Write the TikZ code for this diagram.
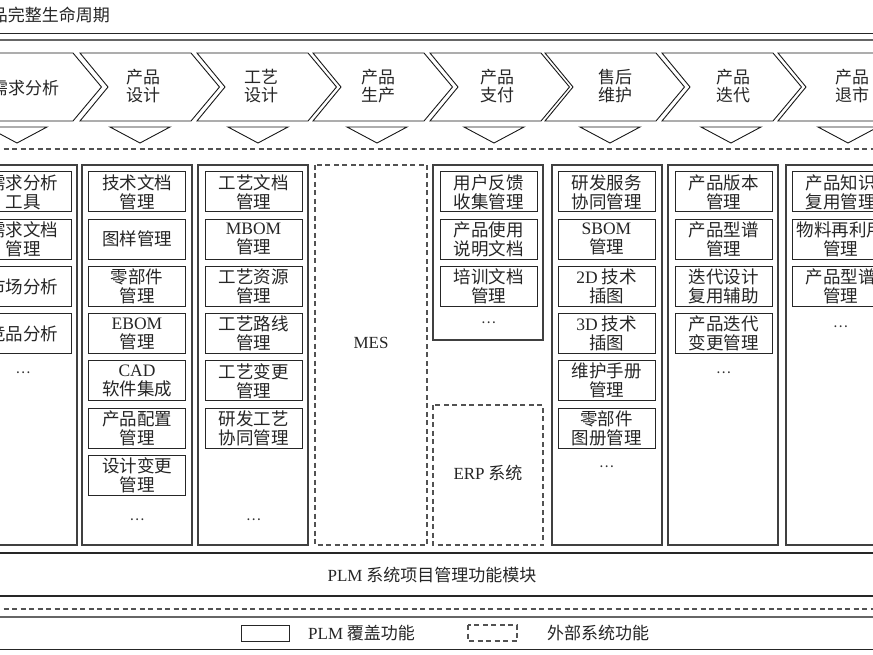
\documentclass[tikz,border=0pt]{standalone}
\usepackage{fontspec}
\setmainfont{Liberation Serif}
\newfontfamily\cjk{Noto Sans CJK SC}
\newfontfamily\latf{Liberation Serif}
\newcommand\enf[1]{{\latf #1}}
\begin{document}
\begin{tikzpicture}[x=1pt,y=-1pt,
  chev/.style={draw=black!90,line width=0.9pt,fill=white},
  tri/.style={draw=black!90,line width=0.9pt},
  colbox/.style={draw=black!75,line width=1.4pt},
  ext/.style={draw=black!68,line width=1.1pt,dash pattern=on 5pt off 3.5pt},
  fbox/.style={draw=black!85,line width=1pt,minimum width=97pt,minimum height=40pt,inner sep=0pt,align=center,font=\cjk\fontsize{17.5}{19}\selectfont,text=black!85},
  lbl/.style={inner sep=0pt,align=center,font=\cjk\fontsize{17}{18.5}\selectfont,text=black!85},
  dots/.style={inner sep=0pt,font=\cjk\fontsize{14}{14}\selectfont,text=black!80}
]
\useasboundingbox (0,0) rectangle (873,655);
\clip (0,0) rectangle (873,655);
\fill[white] (0,0) rectangle (873,655);

% title
\node[lbl,anchor=east] (title) at (110,15) {产品完整生命周期};

% top frame lines
\draw[draw=black!85,line width=0.8pt] (-5,33) -- (880,33);
\draw[draw=black!60,line width=1.8pt] (-5,40) -- (880,40);

% chevrons
\foreach \L in {-38,80,197,313,430,545,662,778}
  \draw[chev] (\L,53) -- ++(111,0) -- ++(28.5,34) -- ++(-28.5,34) -- ++(-111,0) -- ++(28,-34) -- cycle;

\node[lbl] (c1) at (25,88) {需求分析};
\foreach \cx/\t [count=\i from 2] in {143/{产品\\设计},261/{工艺\\设计},378/{产品\\生产},497/{产品\\支付},615/{售后\\维护},733/{产品\\迭代},852/{产品\\退市}}
  \node[lbl] (c\i) at (\cx,86) {\t};

% down triangles
\foreach \cx in {17,140,258,377,494,610,731,848}
  \draw[tri] (\cx-30,127) -- (\cx+30,127) -- (\cx,143) -- cycle;

% dashed separator
\draw[ext] (-5,149) -- (880,149);

% columns
\foreach \L in {-33,82,198,552,668,786}
  \draw[colbox] (\L,165) rectangle ++(110,380);
\draw[colbox] (433,165) rectangle (543,340);
\draw[ext] (315,165) rectangle (427,545);
\draw[ext] (433,405) rectangle (543,545);
\node[lbl] (mes) at (371,343) {\enf{MES}};
\node[lbl] (erp) at (488,473) {\enf{ERP} 系统};

% boxes column 1
\foreach \t [count=\k] in {{需求分析\\工具},{需求文档\\管理},{市场分析},{竞品分析}}
  \node[fbox] (a1-\k) at ({23},{192+47.2*(\k-1)}) {\t};
\node[dots] (d1) at (23,373) {…};
% column 2
\foreach \t [count=\k] in {{技术文档\\管理},{图样管理},{零部件\\管理},{\enf{EBOM}\\管理},{\enf{CAD}\\软件集成},{产品配置\\管理},{设计变更\\管理}}
  \node[fbox] (a2-\k) at ({137},{192+47.2*(\k-1)}) {\t};
\node[dots] (d2) at (137,520) {…};
% column 3
\foreach \t [count=\k] in {{工艺文档\\管理},{\enf{MBOM}\\管理},{工艺资源\\管理},{工艺路线\\管理},{工艺变更\\管理},{研发工艺\\协同管理}}
  \node[fbox] (a3-\k) at ({253.5},{192+47.2*(\k-1)}) {\t};
\node[dots] (d3) at (253.5,520) {…};
% column 5
\foreach \t [count=\k] in {{用户反馈\\收集管理},{产品使用\\说明文档},{培训文档\\管理}}
  \node[fbox] (a5-\k) at ({488.5},{192+47.2*(\k-1)}) {\t};
\node[dots] (d5) at (488.5,323) {…};
% column 6
\foreach \t [count=\k] in {{研发服务\\协同管理},{\enf{SBOM}\\管理},{\enf{2D} 技术\\插图},{\enf{3D} 技术\\插图},{维护手册\\管理},{零部件\\图册管理}}
  \node[fbox] (a6-\k) at ({606.5},{192+47.2*(\k-1)}) {\t};
\node[dots] (d6) at (606.5,467) {…};
% column 7
\foreach \t [count=\k] in {{产品版本\\管理},{产品型谱\\管理},{迭代设计\\复用辅助},{产品迭代\\变更管理}}
  \node[fbox] (a7-\k) at ({723.5},{192+47.2*(\k-1)}) {\t};
\node[dots] (d7) at (723.5,373) {…};
% column 8
\foreach \t [count=\k] in {{产品知识\\复用管理},{物料再利用\\管理},{产品型谱\\管理}}
  \node[fbox] (a8-\k) at ({840.5},{192+47.2*(\k-1)}) {\t};
\node[dots] (d8) at (840.5,327) {…};

% bottom band
\draw[draw=black!85,line width=1.2pt] (-5,553) -- (880,553);
\node[lbl] (plm) at (432,575) {\enf{PLM} 系统项目管理功能模块};
\draw[draw=black!85,line width=1.2pt] (-5,596) -- (880,596);
\draw[ext] (-5,609) -- (880,609);
\draw[draw=black!60,line width=1.8pt] (-5,617) -- (880,617);

% legend
\draw[draw=black!85,line width=1pt] (241,625) rectangle (289,641);
\node[lbl,anchor=west] (lg1) at (308,633) {\enf{PLM} 覆盖功能};
\draw[ext] (468,625) rectangle (517,641);
\node[lbl,anchor=west] (lg2) at (547,633) {外部系统功能};
\draw[draw=black!85,line width=0.8pt] (-5,649) -- (880,649);
\end{tikzpicture}
\end{document}
